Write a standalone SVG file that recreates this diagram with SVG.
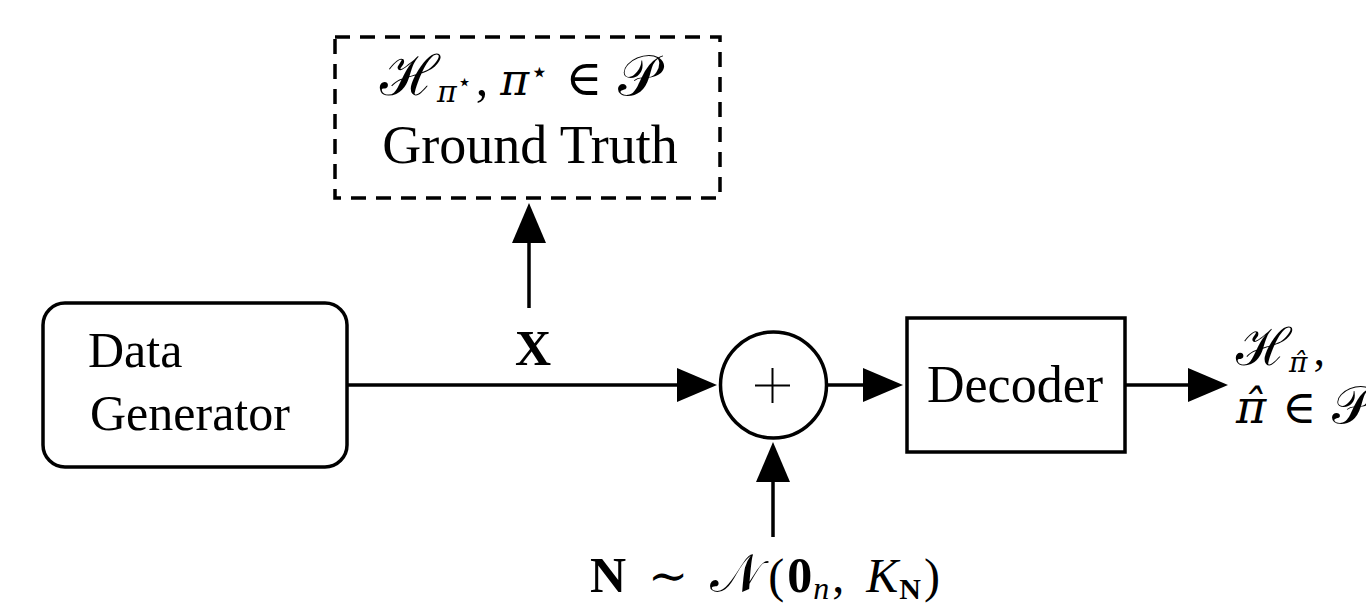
<svg xmlns="http://www.w3.org/2000/svg" width="1366" height="608" viewBox="0 0 1366 608">
<defs>
<style>
.box{fill:#fff;stroke:#000;stroke-width:3.5}
.dash{fill:none;stroke:#000;stroke-width:3.5;stroke-dasharray:15 10}
.ln{fill:none;stroke:#000;stroke-width:3.5}
.t{font-family:"Liberation Serif","Times New Roman",serif;fill:#000}
.m{font-family:"Liberation Serif","DejaVu Serif",serif;fill:#000}
.pi{font-family:"DejaVu Serif",serif;font-style:italic}
.i{font-style:italic}
.b{font-weight:bold}
</style>
<marker id="ah" markerUnits="userSpaceOnUse" markerWidth="40" markerHeight="34" viewBox="0 0 40 34" refX="30" refY="17" orient="auto">
<path d="M0,0 L40,17 L0,34 Z" fill="#000"/>
</marker>
</defs>
<rect width="1366" height="608" fill="#fff"/>

<g id="connectors">
<line class="ln" x1="347" y1="385" x2="707" y2="385" marker-end="url(#ah)"/>
<line class="ln" x1="827" y1="385" x2="893" y2="385" marker-end="url(#ah)"/>
<line class="ln" x1="1125" y1="385" x2="1218" y2="385" marker-end="url(#ah)"/>
<line class="ln" x1="529" y1="308" x2="529" y2="213" marker-end="url(#ah)"/>
<line class="ln" x1="773" y1="537" x2="773" y2="452" marker-end="url(#ah)"/>
</g>

<g id="data-generator">
<rect class="box" x="43" y="303" width="304" height="164" rx="22"/>
<text class="t" x="88" y="367" font-size="50">Data</text>
<text class="t" x="90" y="430" font-size="50">Generator</text>
</g>

<g id="ground-truth">
<rect class="dash" x="335" y="37" width="385" height="161"/>
<text class="m" x="380" y="95" font-size="56">ℋ<tspan class="pi" dx="-2" dy="7" font-size="30">π</tspan><tspan dy="-12" font-size="24">⋆</tspan><tspan dx="4" dy="5" font-size="50">,</tspan><tspan class="pi" dx="12" font-size="44">π</tspan><tspan dx="1" dy="-13" font-size="30">⋆</tspan><tspan dx="16" dy="13" font-size="50">∈</tspan><tspan dx="16">𝒫</tspan></text>
<text class="t" x="530" y="163" font-size="54" text-anchor="middle">Ground Truth</text>
</g>

<g id="x-label">
<text class="t b" x="533" y="365" font-size="50" text-anchor="middle">X</text>
</g>

<g id="adder">
<circle class="box" cx="773.5" cy="385" r="53"/>
<line x1="755" y1="385.5" x2="790" y2="385.5" stroke="#000" stroke-width="2"/>
<line x1="772.5" y1="368" x2="772.5" y2="403" stroke="#000" stroke-width="2"/>
</g>

<g id="decoder">
<rect class="box" x="907" y="318" width="218" height="134"/>
<text class="t" x="1015" y="402" font-size="52" text-anchor="middle">Decoder</text>
</g>

<g id="output">
<text class="m" x="1236" y="365" font-size="52">ℋ<tspan class="pi" dx="-2" dy="7" font-size="28">π̂</tspan><tspan dx="6" dy="-7" font-size="46">,</tspan></text>
<text class="m" x="1236" y="423" font-size="46"><tspan class="pi">π̂</tspan><tspan dx="16">∈</tspan><tspan dx="16" font-size="52">𝒫</tspan></text>
</g>

<g id="noise">
<text class="m" x="590" y="592" font-size="48"><tspan class="b" font-size="50">N</tspan><tspan dx="22">∼</tspan><tspan dx="22" font-size="54">𝒩</tspan><tspan dx="6">(</tspan><tspan class="b" dx="3" font-size="50">0</tspan><tspan class="i" dx="1" dy="7" font-size="32">n</tspan><tspan dx="3" dy="-7">,</tspan><tspan class="i" dx="22">K</tspan><tspan class="b" dx="1" dy="7" font-size="30">N</tspan><tspan dx="3" dy="-7">)</tspan></text>
</g>
</svg>
